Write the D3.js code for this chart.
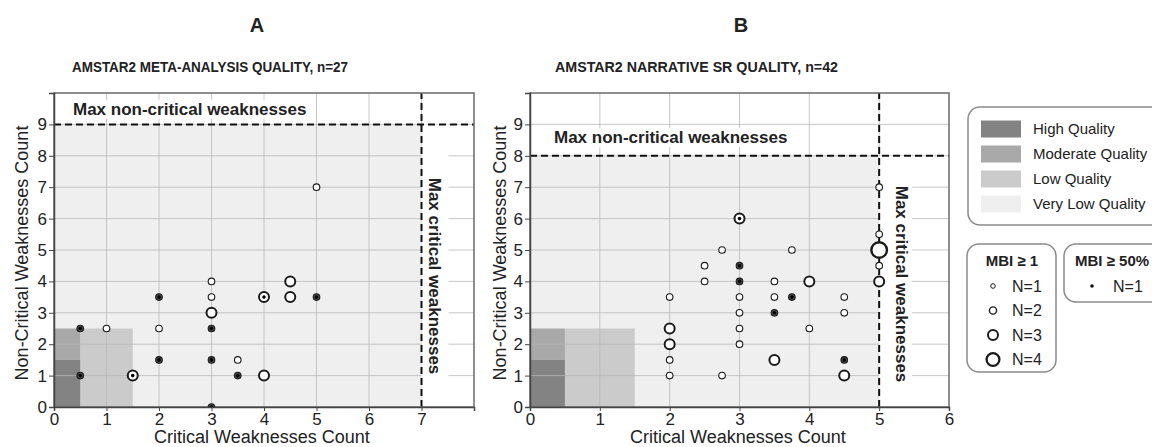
<!DOCTYPE html>
<html><head><meta charset="utf-8">
<script src="https://cdn.jsdelivr.net/npm/d3@7"></script>
<style>
body{margin:0;background:#fff}
text{font-family:"Liberation Sans",Arial,Helvetica,sans-serif;fill:#222}
</style>
</head><body>
<svg id="chart" width="1152" height="447"></svg>
<script>
// ---------- data ----------
const panelLetters = ["A", "B"];
const panelSubtitles = ["AMSTAR2 META-ANALYSIS QUALITY, n=27", "AMSTAR2 NARRATIVE SR QUALITY, n=42"];
const xTicksA = [0, 1, 2, 3, 4, 5, 6, 7];
const xTicksB = [0, 1, 2, 3, 4, 5, 6];
const yTicks = [0, 1, 2, 3, 4, 5, 6, 7, 8, 9];
const xLabel = "Critical Weaknesses Count";
const yLabel = "Non-Critical Weaknesses Count";
const maxCriticalA = 7, maxNonCriticalA = 9;
const maxCriticalB = 5, maxNonCriticalB = 8;
const maxNonCritLabel = "Max non-critical weaknesses";
const maxCritLabel = "Max critical weaknesses";

const qualityLabels = ["High Quality", "Moderate Quality", "Low Quality", "Very Low Quality"];
// zones: [critical from, critical to, non-critical from, non-critical to]
const highZone = [0, 0.5, 0, 1.5];
const moderateZone = [0, 0.5, 1.5, 2.5];
const lowZone = [0.5, 1.5, 0, 2.5];

// Panel A points
const aCritical    = [0.5, 0.5, 1, 1.5, 2, 2, 2, 3, 3, 3, 3, 3, 3, 3.5, 3.5, 4, 4, 4.5, 4.5, 5, 5];
const aNonCritical = [2.5, 1, 2.5, 1, 3.5, 2.5, 1.5, 4, 3.5, 3, 2.5, 1.5, 0, 1.5, 1, 3.5, 1, 4, 3.5, 7, 3.5];
const aCount       = [1, 1, 1, 2, 1, 1, 1, 1, 1, 2, 1, 1, 1, 1, 1, 2, 2, 2, 2, 1, 1];
const aMbi50       = [1, 1, 0, 1, 1, 0, 1, 0, 0, 0, 1, 1, 1, 0, 1, 1, 0, 0, 0, 0, 1];

// Panel B points
const bCritical    = [2, 2, 2, 2, 2, 2.5, 2.5, 2.75, 2.75, 3, 3, 3, 3, 3, 3, 3, 3.5, 3.5, 3.5, 3.5, 3.75, 3.75, 4, 4, 4.5, 4.5, 4.5, 4.5, 5, 5, 5, 5, 5];
const bNonCritical = [3.5, 2.5, 2, 1.5, 1, 4.5, 4, 5, 1, 6, 4.5, 4, 3.5, 3, 2.5, 2, 4, 3.5, 3, 1.5, 5, 3.5, 4, 2.5, 3.5, 3, 1.5, 1, 7, 5.5, 5, 4.5, 4];
const bCount       = [1, 2, 2, 1, 1, 1, 1, 1, 1, 2, 1, 1, 1, 1, 1, 1, 1, 1, 1, 2, 1, 1, 2, 1, 1, 1, 1, 2, 1, 1, 4, 1, 2];
const bMbi50       = [0, 0, 0, 0, 0, 0, 0, 0, 0, 1, 1, 1, 0, 0, 0, 0, 0, 0, 1, 0, 0, 1, 0, 0, 0, 0, 1, 0, 0, 0, 0, 0, 0];

const legendCounts = [1, 2, 3, 4];

// ---------- styles ----------
const qualityColors = ["#838383", "#a9a9a9", "#cbcbcb", "#efefef"];
const ringR = d3.scaleOrdinal().domain([1, 2, 3, 4]).range([3.3, 5, 6.2, 7.8]);
const ringW = d3.scaleOrdinal().domain([1, 2, 3, 4]).range([1.1, 2, 2.1, 2.4]);
const legR = d3.scaleOrdinal().domain([1, 2, 3, 4]).range([2.3, 3.6, 5, 6.4]);
const legW = d3.scaleOrdinal().domain([1, 2, 3, 4]).range([1, 1.4, 2, 2.3]);

const svg = d3.select("#chart");
const defs = svg.append("defs");

const panels = [
  {letter: panelLetters[0], sub: panelSubtitles[0], xTicks: xTicksA, xMax: 8, maxC: maxCriticalA, maxN: maxNonCriticalA,
   left: 54, right: 474, letterX: 257, subX: 72, subW: 276, yLabX: 22, xLabX: 262,
   nLabelX: 73, nLabelY: 9.5, cOff: 14, cBg: 27, cY: 276,
   pts: aCritical.map((c, i) => ({c, n: aNonCritical[i], k: aCount[i], m: aMbi50[i]}))},
  {letter: panelLetters[1], sub: panelSubtitles[1], xTicks: xTicksB, xMax: 6, maxC: maxCriticalB, maxN: maxNonCriticalB,
   left: 530, right: 949, letterX: 741, subX: 555, subW: 283, yLabX: 500, xLabX: 738,
   nLabelX: 554, nLabelY: 8.6, cOff: 23, cBg: 33, cY: 284,
   pts: bCritical.map((c, i) => ({c, n: bNonCritical[i], k: bCount[i], m: bMbi50[i]}))}
];

const plotTop = 93, plotBottom = 407;

panels.forEach((p, pi) => {
  const x = d3.scaleLinear().domain([0, p.xMax]).range([p.left, p.right]);
  const y = d3.scaleLinear().domain([0, 10]).range([plotBottom, plotTop]);
  const g = svg.append("g");

  // titles
  g.append("text").attr("x", p.letterX).attr("y", 32).attr("text-anchor", "middle")
    .attr("font-size", 20).attr("font-weight", "bold").text(p.letter);
  g.append("text").attr("x", p.subX).attr("y", 72)
    .attr("font-size", 15).attr("font-weight", "bold")
    .attr("textLength", p.subW).attr("lengthAdjust", "spacingAndGlyphs").text(p.sub);

  // plot background
  g.append("rect").attr("x", x(0)).attr("y", y(10)).attr("width", x(p.xMax) - x(0)).attr("height", y(0) - y(10)).attr("fill", "#fff");

  // quality zones
  const zone = (z, col) => g.append("rect").attr("x", x(z[0])).attr("y", y(z[3]))
    .attr("width", x(z[1]) - x(z[0])).attr("height", y(z[2]) - y(z[3])).attr("fill", col);
  zone([0, p.maxC, 0, p.maxN], qualityColors[3]);
  zone(lowZone, qualityColors[2]);
  zone(moderateZone, qualityColors[1]);
  zone(highZone, qualityColors[0]);

  // grid
  const grid = g.append("g").attr("stroke", "#b5b5b5").attr("stroke-opacity", 0.75).attr("stroke-width", 1);
  d3.range(1, p.xMax).forEach(v => grid.append("line").attr("x1", x(v)).attr("x2", x(v)).attr("y1", y(0)).attr("y2", y(10)));
  d3.range(1, 10).forEach(v => grid.append("line").attr("x1", x(0)).attr("x2", x(p.xMax)).attr("y1", y(v)).attr("y2", y(v)));

  // label backgrounds + labels
  const nbg = g.append("rect");
  const nl = g.append("text").attr("x", p.nLabelX).attr("y", y(p.nLabelY)).attr("dy", "0.36em")
    .attr("font-size", 17).attr("font-weight", "bold").text(maxNonCritLabel);
  const nb = nl.node().getBBox();
  nbg.attr("x", nb.x - 3).attr("y", nb.y).attr("width", nb.width + 6).attr("height", nb.height)
    .attr("fill", "#fff");

  g.append("rect").attr("x", x(p.maxC)).attr("y", y(p.maxN)).attr("width", p.cBg).attr("height", y(0) - y(p.maxN)).attr("fill", "#fff");
  g.append("text").attr("transform", `translate(${x(p.maxC) + p.cOff},${p.cY}) rotate(90)`).attr("text-anchor", "middle").attr("dy", "0.36em")
    .attr("font-size", 17).attr("font-weight", "bold").text(maxCritLabel);

  // dashed limits
  g.append("line").attr("x1", x(0)).attr("x2", x(p.xMax)).attr("y1", y(p.maxN)).attr("y2", y(p.maxN))
    .attr("stroke", "#111").attr("stroke-width", 2).attr("stroke-dasharray", "7,4");
  g.append("line").attr("x1", x(p.maxC)).attr("x2", x(p.maxC)).attr("y1", y(0)).attr("y2", y(10))
    .attr("stroke", "#111").attr("stroke-width", 2).attr("stroke-dasharray", "7,4");

  // frame
  g.append("rect").attr("x", x(0)).attr("y", y(10)).attr("width", x(p.xMax) - x(0)).attr("height", y(0) - y(10))
    .attr("fill", "none").attr("stroke", "#6a6a6a").attr("stroke-width", 1.5);

  // points
  const clipId = "clip" + pi;
  defs.append("clipPath").attr("id", clipId).append("rect")
    .attr("x", x(0)).attr("y", y(10)).attr("width", x(p.xMax) - x(0)).attr("height", y(0) - y(10));
  const pg = g.append("g").attr("clip-path", `url(#${clipId})`);
  pg.selectAll("circle.ring").data(p.pts).join("circle").attr("class", "ring")
    .attr("cx", d => x(d.c)).attr("cy", d => y(d.n)).attr("r", d => ringR(d.k))
    .attr("fill", d => (d.m && d.k === 1) ? "#4a4a4a" : "#fff")
    .attr("stroke", "#1a1a1a").attr("stroke-width", d => ringW(d.k));
  pg.selectAll("circle.dot").data(p.pts.filter(d => d.m)).join("circle").attr("class", "dot")
    .attr("cx", d => x(d.c)).attr("cy", d => y(d.n)).attr("r", 1.8).attr("fill", "#000");

  // axes
  const xa = g.append("g").attr("transform", `translate(0,${plotBottom})`)
    .call(d3.axisBottom(x).tickValues(p.xTicks).tickSize(4).tickPadding(2).tickFormat(d3.format("d")));
  const ya = g.append("g").attr("transform", `translate(${p.left},0)`)
    .call(d3.axisLeft(y).tickValues(yTicks).tickSize(5).tickPadding(2).tickFormat(d3.format("d")));
  [xa, ya].forEach(a => {
    a.select(".domain").attr("stroke", "#444").attr("stroke-width", 1.5);
    a.selectAll(".tick line").attr("stroke", "#444");
    a.selectAll(".tick text").attr("font-size", 17).attr("fill", "#333").style("font-family", '"Liberation Sans",Arial,sans-serif');
  });

  // axis titles
  g.append("text").attr("x", p.xLabX).attr("y", 443).attr("text-anchor", "middle").attr("font-size", 18).text(xLabel);
  g.append("text").attr("transform", `translate(${p.yLabX},253) rotate(-90)`).attr("text-anchor", "middle")
    .attr("dy", "0.36em").attr("font-size", 18).text(yLabel);
});

// ---------- legends ----------
const lg = svg.append("g");
lg.append("rect").attr("x", 968).attr("y", 107).attr("width", 200).attr("height", 118).attr("rx", 12)
  .attr("fill", "#fff").attr("stroke", "#8a8a8a").attr("stroke-width", 1.5);
qualityLabels.forEach((t, i) => {
  const cy = 129 + i * 25;
  lg.append("rect").attr("x", 981).attr("y", cy - 8.5).attr("width", 40).attr("height", 17).attr("fill", qualityColors[i]);
  lg.append("text").attr("x", 1033).attr("y", cy).attr("dy", "0.36em").attr("font-size", 15).text(t);
});

lg.append("rect").attr("x", 967).attr("y", 244).attr("width", 89).attr("height", 128).attr("rx", 12)
  .attr("fill", "#fff").attr("stroke", "#8a8a8a").attr("stroke-width", 1.5);
lg.append("text").attr("x", 1012).attr("y", 261).attr("dy", "0.36em").attr("text-anchor", "middle")
  .attr("font-size", 15).attr("font-weight", "bold").text("MBI \u2265 1");
legendCounts.forEach((k, i) => {
  const cy = 286 + i * 24.5;
  lg.append("circle").attr("cx", 993).attr("cy", cy).attr("r", legR(k)).attr("fill", "#fff")
    .attr("stroke", "#1a1a1a").attr("stroke-width", legW(k));
  lg.append("text").attr("x", 1012).attr("y", cy).attr("dy", "0.36em").attr("font-size", 16).text("N=" + k);
});

lg.append("rect").attr("x", 1064).attr("y", 244).attr("width", 100).attr("height", 58).attr("rx", 12)
  .attr("fill", "#fff").attr("stroke", "#8a8a8a").attr("stroke-width", 1.5);
lg.append("text").attr("x", 1075).attr("y", 261).attr("dy", "0.36em")
  .attr("font-size", 15).attr("font-weight", "bold").text("MBI \u2265 50%");
lg.append("circle").attr("cx", 1092).attr("cy", 286).attr("r", 1.8).attr("fill", "#111");
lg.append("text").attr("x", 1113).attr("y", 286).attr("dy", "0.36em").attr("font-size", 16).text("N=1");
</script>
</body></html>
